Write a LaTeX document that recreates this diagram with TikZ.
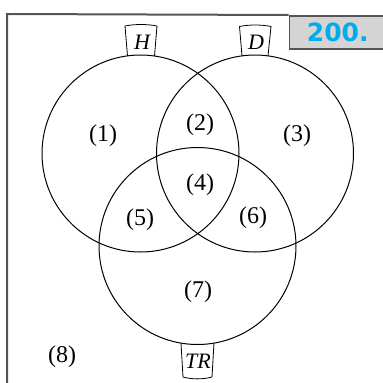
\documentclass[tikz,border=0pt]{standalone}
\usepackage{fontspec}
\setmainfont{Liberation Serif}
\newfontfamily\numfont{DejaVu Sans}
\definecolor{numblue}{RGB}{0,172,236}
\definecolor{framegray}{RGB}{85,85,85}
\definecolor{boxfill}{RGB}{212,212,212}
\begin{document}
\begin{tikzpicture}[x=1pt,y=-1pt,
  setc/.style={draw, circle, minimum size=197pt, line width=1pt, inner sep=0pt},
  region/.style={font=\fontsize{24}{24}\selectfont, inner sep=0pt},
  tagline/.style={draw, line width=0.8pt},
  tagtext/.style={font=\itshape\fontsize{22}{22}\selectfont, inner sep=0pt}]
\useasboundingbox (0,0) rectangle (383,383);
% sets
\node[setc] (Hc) at (140.5,153.5) {};
\node[setc] (Dc) at (255,153.5) {};
\node[setc] (Tc) at (197.5,246) {};
% tags
\draw[tagline] (127.5,56) -- (125,26) .. controls (135,24) and (147,24) .. (157,26) -- (154.5,56);
\draw[tagline] (242,56) -- (239.5,26.5) .. controls (249.5,24.5) and (261,24.5) .. (271,26.5) -- (268,56);
\draw[tagline] (181,343) -- (183,377) .. controls (192,379.5) and (203,379.5) .. (212,377) -- (214,343);
\node[tagtext] (Ht) at (142,42) {H};
\node[tagtext] (Dt) at (256,42) {D};
\node[tagtext] (Tt) at (198,361) {TR};
% regions
\node[region] (r1) at (103,136) {(1)};
\node[region] (r2) at (200,125) {(2)};
\node[region] (r3) at (297,136) {(3)};
\node[region] (r4) at (200,185) {(4)};
\node[region] (r5) at (140,220) {(5)};
\node[region] (r6) at (253,218) {(6)};
\node[region] (r7) at (198,292) {(7)};
\node[region] (r8) at (62,357) {(8)};
% number box
\node[draw=framegray, fill=boxfill, line width=1.5pt, minimum width=100pt, minimum height=33pt,
      anchor=north west, inner sep=0pt, text=numblue,
      font=\numfont\bfseries\fontsize{25}{25}\selectfont] (num) at (288.5,15) {\raisebox{-0.5pt}{200.}\hspace*{3pt}};
% frame
\coordinate (fbot) at (7,384);
\coordinate (fcorner) at (7,14);
\draw[framegray, line width=2pt] (fbot) -- (fcorner) -- (num.north west);
\end{tikzpicture}
\end{document}
